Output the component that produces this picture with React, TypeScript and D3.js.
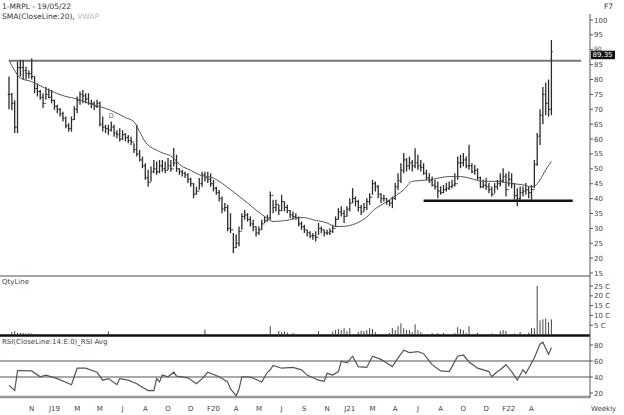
import React from "react";
import * as d3 from "d3";

// ---- data (weekly bars, week 0 = 21 Sep 2018, week 191 = 19 May 2022) ----
const highs = [
  81, 75.5, 73, 86, 86.6, 86.6, 84.3, 83, 87.1, 81, 78.7, 76.5, 75.4, 77.6, 77, 76.5, 73.2, 71.5, 70.4, 69.2,
  67.6, 65.3, 67.6, 71, 74.3, 76, 76.5, 75.4, 75.4, 73.2, 72.6, 73.2, 72.6, 67.6, 64.8, 64.8, 65.9, 64.8, 63, 63.6,
  63, 62, 61.4, 60.8, 58.6, 64.8, 56.4, 54.1, 51.9, 49.7, 50.8, 53, 52.5, 53, 53, 52.5, 53.6, 53, 57, 54.7,
  50.2, 49.7, 49, 48.5, 47, 45.2, 44, 46.9, 49, 49, 49, 48.5, 46.3, 44, 42.9, 40.7, 38.5, 37.9, 35.1, 28.4,
  27.9, 30.6, 35.1, 36.2, 35.1, 34, 32.9, 30.6, 30.6, 32.9, 34, 34.5, 42.4, 39.6, 39.6, 37.9, 41.3, 39, 37.9, 36.2,
  35.7, 35.1, 34, 32.3, 31.2, 29.5, 29, 28.4, 29, 31.8, 30.6, 29.5, 29.5, 30, 31.2, 34, 36.8, 37.4, 36.2, 37.4,
  40.1, 43.5, 40.7, 39.6, 37.9, 38.5, 40.1, 41.8, 46.3, 45.7, 44.6, 41.8, 41.3, 40.1, 39.6, 40.7, 45.2, 48.5, 51.9, 55.3,
  53.6, 54.1, 53, 56.9, 54.7, 53, 51.9, 49.7, 48.5, 47.4, 46.3, 45.7, 44.1, 44.6, 45.2, 45.7, 46.3, 48.5, 54.1, 54.7,
  55.3, 54.1, 58.1, 51.9, 51.3, 50.2, 47.4, 46.3, 46.9, 45.2, 44.1, 45.2, 46.3, 48.5, 50.2, 48.5, 49.1, 48.5, 45.2, 43.5,
  44.1, 44.1, 45.2, 44.1, 44.6, 53, 62, 70, 77.5, 79, 80, 93.3,
];
const lows = [
  70, 69.8, 62, 62, 81, 80, 80, 80.4, 80, 75.4, 74.3, 73.2, 70.4, 73.2, 73.7, 72, 69.8, 68.7, 67.6, 65.9,
  63.6, 62.5, 62.5, 66.4, 68.7, 71.5, 72, 72, 71.5, 70.4, 69.8, 70.4, 64.2, 62.5, 62, 61.4, 62.5, 60.8, 60.3, 59.2,
  59.7, 59.2, 58.6, 58, 55.3, 54.1, 52.5, 50.2, 46.3, 44, 45.7, 48.5, 48, 48.5, 49, 48.5, 49.6, 49, 50.8, 49,
  48, 47.4, 46.9, 45.2, 44, 40.1, 41.3, 43, 44, 45.7, 45.2, 44, 42.4, 41.3, 39, 35.1, 35.7, 29, 28.4, 21.7,
  23.4, 23.9, 29.5, 32.9, 32.3, 30.6, 29, 27.3, 27.8, 29.5, 31.8, 32.3, 32.9, 35.1, 35.7, 34.5, 35.7, 35.7, 35.1, 33.4,
  32.9, 32.9, 30.6, 29.5, 28.4, 27.3, 26.7, 26.2, 25.6, 27.8, 28.4, 27.3, 27.8, 27.8, 28.4, 30.6, 32.9, 34, 31.8, 34,
  35.7, 38.5, 37.4, 35.7, 34.5, 35.7, 36.2, 37.9, 41.3, 42.4, 40.1, 38.5, 39, 37.9, 37.4, 36.8, 39.6, 42.9, 45.2, 48.5,
  49.1, 49.7, 49.1, 50.2, 49.7, 49.1, 48, 46.3, 45.2, 44.1, 43, 40.1, 41.3, 41.8, 42.4, 42.9, 43.5, 44.1, 46.3, 50.2,
  50.8, 50.2, 49.7, 48.5, 48, 46.3, 43.5, 43.5, 43, 41.8, 40.7, 41.8, 43, 44.1, 45.2, 40.7, 44.1, 43.5, 39.6, 37.4,
  39.6, 40.7, 41.3, 40.1, 39.6, 43.5, 51, 58, 65, 68, 67.5, 68,
];
const closes = [
  75, 72, 64, 84, 84, 83, 82, 82, 81, 77, 76, 74, 72, 75, 74, 73, 71, 70, 68.5, 67,
  64.5, 63.5, 66.5, 70, 73, 75, 74.5, 73.5, 72, 72, 71, 72, 65, 64, 63.5, 63, 64, 62, 61.5, 60,
  61.5, 60.5, 59.5, 59, 56.5, 55, 53, 51, 47, 45.5, 49, 50, 49, 51, 50, 49.5, 51, 50, 52, 50,
  49, 48.5, 48, 46.5, 45, 41.5, 42.5, 45, 48, 47, 46.5, 45, 43.5, 42, 40, 36.5, 37, 30, 29.5, 23.5,
  25, 29, 34, 34.5, 33, 31.5, 30.5, 28.5, 29.5, 31.5, 32.5, 33.5, 41, 37, 38, 36, 39, 37, 36, 34.5,
  34, 33.5, 31.5, 30.5, 29.5, 28.5, 27.5, 27.5, 27, 30, 29.5, 28.5, 28.5, 29, 30, 33, 35.5, 35, 34, 36.5,
  38.5, 40, 39, 37, 35.5, 37, 39, 40.5, 45, 44, 41.5, 40, 40, 39, 38.5, 40, 44, 46, 49.5, 53,
  51, 52, 51, 52, 51, 50.5, 48.5, 47, 46, 44.5, 44, 42.5, 42, 43, 43.5, 44, 44.5, 45, 52, 52,
  53, 51, 51, 49, 49.5, 47, 44, 44.5, 44, 43, 41.5, 44, 45, 46, 47.5, 43, 46.5, 45, 41, 40,
  42, 42.5, 43, 42, 43, 51.5, 61, 68, 75, 72, 70, 89.35,
];

// SMA(CloseLine:20): [week, value]
const smaPoints: [number, number][] = [
  [0, 86.5], [2, 83], [4, 80.5], [8, 79.3], [14, 76.5], [20, 74.3], [24, 73.5], [28, 72], [32, 70.9], [36, 69.6],
  [41, 67.2], [44, 65.8], [46, 62.5], [48, 59], [53, 55.8], [58, 53.6], [60, 51.5], [64, 49.5], [67, 48], [72, 46.9],
  [78, 43], [84, 38.5], [90, 34], [93, 32.3], [96, 32.5], [99, 32.9], [101, 33.6], [104, 33.6], [107, 32.9], [112, 31.8],
  [115, 30.6], [118, 30.7], [121, 31.2], [124, 32.5], [126, 33.8], [128, 35.8], [131, 37.8], [134, 39.6], [139, 43], [142, 45.8],
  [148, 46.3], [155, 47.4], [159, 47.4], [162, 46.9], [167, 45.8], [172, 45.8], [176, 45.2], [181, 44.6], [184, 44], [185, 44.2],
  [187, 46.3], [189, 49.7], [191, 52.5],
];

// RSI(14): [week, value]
const rsiPoints: [number, number][] = [
  [0, 29.5], [2, 23], [3, 48], [5, 48], [8, 47.6], [11, 40.3], [13, 42.4], [17, 38], [22, 30.4], [24, 51],
  [27, 51], [31, 45.9], [33, 36], [35, 38], [38, 30.4], [39, 38], [42, 36], [45, 31.6], [47, 27.3], [49, 23],
  [51, 23], [52, 38], [53, 33.8], [54, 42.4], [56, 40.3], [58, 46], [59, 41], [63, 39], [66, 31.6], [68, 38],
  [70, 45.9], [74, 40.3], [77, 33.8], [78, 25], [80, 16.5], [81, 25], [82, 40.3], [85, 40], [89, 33.8], [91, 45.9],
  [92, 49], [93, 54.5], [96, 51], [100, 52], [103, 49], [105, 42.4], [109, 36], [111, 34.7], [112, 44.6], [114, 42.4],
  [116, 46.8], [117, 59.7], [119, 57.6], [121, 66], [123, 53], [126, 52], [128, 66], [131, 62], [133, 57.6], [135, 53],
  [137, 64], [139, 73.5], [141, 70.5], [144, 71.8], [146, 69.2], [149, 55.4], [152, 47.6], [155, 46.8], [156, 53], [158, 66],
  [160, 67.5], [162, 58.8], [165, 51], [169, 46.8], [170, 40.3], [172, 46.8], [173, 49], [175, 55.4], [177, 46.8], [179, 36],
  [181, 49], [182, 44.6], [183, 51], [185, 64], [187, 81.3], [188, 83.5], [190, 68.3], [191, 77],
];

// Quantity (crore shares): [week, value]
const qtyPoints: [number, number][] = [
  [1, 1.5], [2, 2], [3, 1.2], [4, 1], [5, 1], [6, 0.8], [7, 1], [8, 0.8], [35, 1.8], [69, 2.8],
  [92, 4.5], [95, 2], [96, 1.5], [97, 1.8], [98, 1.2], [100, 1], [109, 2], [114, 1.8], [115, 2.5], [116, 3],
  [117, 2.5], [118, 3.5], [119, 2], [120, 3.5], [123, 1.5], [124, 2.2], [125, 2], [126, 2.5], [127, 3.5], [128, 3],
  [129, 1.5], [134, 1], [135, 3.5], [136, 2.5], [137, 4.5], [138, 6], [139, 3.5], [140, 2.5], [141, 2.5], [142, 1.5],
  [143, 5.5], [144, 2.5], [145, 1.5], [149, 1], [151, 1], [153, 1], [157, 1], [158, 4], [159, 3], [160, 2.5],
  [161, 1], [162, 4.5], [165, 1], [170, 0.8], [173, 2], [174, 2.5], [175, 2], [178, 0.8], [180, 1.5], [183, 1.2],
  [184, 3.5], [185, 3.5], [186, 25], [187, 7.5], [188, 8], [189, 8.5], [190, 6.5], [191, 8],
];

const xLabels = ["N", "J19", "M", "M", "J", "A", "O", "D", "F20", "A", "M", "J", "S", "N", "J21", "M", "A", "J", "A", "O", "D", "F22", "A"];
const xLabelWeeks = [8, 16, 24, 32, 40, 48, 56, 64, 72, 80, 88, 96, 104, 112, 120, 128, 136, 144, 152, 160, 168, 176, 184];
const priceTicks = [100, 95, 90, 85, 80, 75, 70, 65, 60, 55, 50, 45, 40, 35, 30, 25, 20, 15];
const qtyTicks = [5, 10, 15, 20, 25];
const rsiTicks = [20, 40, 60, 80];
const rsiLevels = [60, 40];
const resistanceLevel = 86.3;
const resistanceWeeks = [0, 201.5];
const supportLevel = 39.3;
const supportWeeks = [146, 198.5];
const dividendWeek = 36;
const lastClose = 89.35;
const lastCloseLabel = "89.35";

const FONT = "'DejaVu Sans', Verdana, sans-serif";

export default function App() {
  const W = 624;
  const H = 415;
  const axisX = 590;
  const x = d3.scaleLinear().domain([0, 191]).range([9, 551.4]);
  const yP = d3.scaleLinear().domain([15, 100]).range([273, 20]);
  const yQ = d3.scaleLinear().domain([0, 25]).range([335, 286]);
  const yR = d3.scaleLinear().domain([20, 80]).range([393, 345]);

  const smaLine = d3
    .line<[number, number]>()
    .x((d) => x(d[0]))
    .y((d) => yP(d[1]))
    .curve(d3.curveMonotoneX)(smaPoints) as string;
  const rsiLine = d3
    .line<[number, number]>()
    .x((d) => x(d[0]))
    .y((d) => yR(d[1]))(rsiPoints) as string;

  const txt = { fontFamily: FONT, fontSize: 7, fill: "#444" } as const;
  const barColor = "#2b2b2b";
  const boxTop = yP(lastClose) - 1;

  return (
    <svg width={W} height={H} style={{ display: "block", position: "absolute", left: 0, top: 0, background: "#fff" }}>
      <rect x={0} y={0} width={W} height={H} fill="#fff" />
      {/* titles */}
      <text x={2} y={9} {...txt} fontSize={7.5} fill="#333">1-MRPL - 19/05/22</text>
      <text x={2} y={19} {...txt} fontSize={7.5} fill="#333">
        SMA(CloseLine:20), <tspan fill="#bbb">VWAP</tspan>
      </text>
      <text x={604} y={9} {...txt} fontSize={7.5} fill="#333">F7</text>

      {/* resistance & support */}
      <line x1={x(resistanceWeeks[0])} x2={x(resistanceWeeks[1])} y1={yP(resistanceLevel)} y2={yP(resistanceLevel)} stroke="#777" strokeWidth={2} />
      <line x1={x(supportWeeks[0])} x2={x(supportWeeks[1])} y1={yP(supportLevel)} y2={yP(supportLevel)} stroke="#111" strokeWidth={2.5} />

      {/* OHLC bars */}
      {closes.map((c, i) => {
        const xi = x(i);
        const o = i > 0 ? closes[i - 1] : c;
        return (
          <g key={i} stroke={barColor} strokeWidth={1.3}>
            <line x1={xi} x2={xi} y1={yP(highs[i])} y2={yP(lows[i])} />
            <line x1={xi - 1.3} x2={xi} y1={yP(o)} y2={yP(o)} strokeWidth={1} />
            <line x1={xi} x2={xi + 1.3} y1={yP(c)} y2={yP(c)} strokeWidth={1} />
          </g>
        );
      })}
      <path d={smaLine} fill="none" stroke="#555" strokeWidth={1} />
      <text x={x(dividendWeek)} y={yP(highs[dividendWeek]) - 3} {...txt} fontSize={6.5} fill="#666" textAnchor="middle">D</text>

      {/* panel separators */}
      <line x1={0} x2={axisX} y1={276} y2={276} stroke="#888" strokeWidth={1.5} />
      <line x1={0} x2={axisX} y1={335.5} y2={335.5} stroke="#111" strokeWidth={2.5} />
      <line x1={0} x2={axisX} y1={397} y2={397} stroke="#999" strokeWidth={2.5} />
      <line x1={axisX} x2={axisX} y1={14} y2={398} stroke="#555" strokeWidth={1} />

      {/* price axis */}
      {priceTicks.map((t) => (
        <g key={t}>
          <line x1={axisX} x2={axisX + 3} y1={yP(t)} y2={yP(t)} stroke="#555" />
          <text x={axisX + 4} y={yP(t) + (t === 90 ? 1 : 2.5)} {...txt} fontSize={t === 90 ? 6 : 7}>{t}</text>
        </g>
      ))}
      <rect x={axisX + 1} y={boxTop} width={24} height={8.5} fill="#111" />
      <text x={axisX + 2.5} y={boxTop + 6.8} {...txt} fill="#fff">{lastCloseLabel}</text>

      {/* quantity panel */}
      <text x={2} y={284} {...txt} fill="#444">QtyLine</text>
      {qtyPoints.map(([w, v]) => (
        <line key={w} x1={x(w)} x2={x(w)} y1={yQ(0)} y2={yQ(v)} stroke="#444" strokeWidth={1} />
      ))}
      {qtyTicks.map((t) => (
        <g key={t}>
          <line x1={axisX} x2={axisX + 3} y1={yQ(t)} y2={yQ(t)} stroke="#555" />
          <text x={axisX + 4} y={yQ(t) + 2.5} {...txt}>{t} C</text>
        </g>
      ))}

      {/* RSI panel */}
      <text x={2} y={344} {...txt} fill="#444">RSI(CloseLine:14:E:0)_RSI Avg</text>
      {rsiLevels.map((l) => (
        <line key={l} x1={0} x2={axisX} y1={yR(l)} y2={yR(l)} stroke="#555" strokeWidth={1.2} />
      ))}
      <path d={rsiLine} fill="none" stroke="#555" strokeWidth={1.2} />
      {rsiTicks.map((t) => (
        <g key={t}>
          <line x1={axisX} x2={axisX + 3} y1={yR(t)} y2={yR(t)} stroke="#555" />
          <text x={axisX + 4} y={yR(t) + 2.5} {...txt}>{t}</text>
        </g>
      ))}

      {/* x axis labels */}
      {xLabels.map((l, k) => (
        <text key={k} x={x(xLabelWeeks[k])} y={411} {...txt} textAnchor="middle">{l}</text>
      ))}
      <text x={591} y={411} {...txt}>Weekly</text>
    </svg>
  );
}
